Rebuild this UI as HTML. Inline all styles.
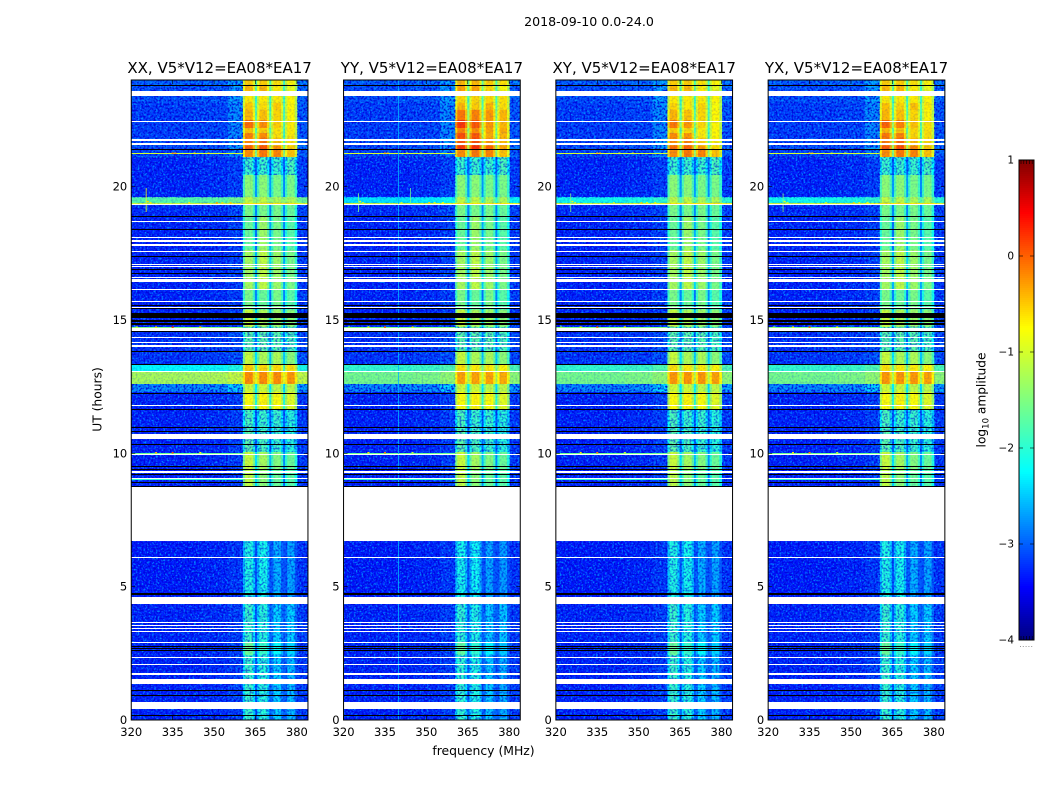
<!DOCTYPE html>
<html>
<head>
<meta charset="utf-8">
<title>2018-09-10 0.0-24.0</title>
<style>
html,body{margin:0;padding:0;background:#fff;}
svg{display:block;}
text{font-family:"DejaVu Sans","Liberation Sans",sans-serif;fill:#000;}
</style>
</head>
<body>
<svg id="figure" xmlns="http://www.w3.org/2000/svg" width="1050" height="800" viewBox="0 0 1050 800">
  <defs>
    <filter id="speckle-light" x="0" y="0" width="100%" height="100%" color-interpolation-filters="sRGB">
      <feTurbulence type="fractalNoise" baseFrequency="0.55" numOctaves="2" seed="3"/>
      <feColorMatrix values="0 0 0 0 0  0 0 0 0 .6  0 0 0 0 1  4.5 0 0 0 -2.2"/>
    </filter>
    <filter id="speckle-dark" x="0" y="0" width="100%" height="100%" color-interpolation-filters="sRGB">
      <feTurbulence type="fractalNoise" baseFrequency="0.5" numOctaves="2" seed="11"/>
      <feColorMatrix values="0 0 0 0 0  0 0 0 0 0  0 0 0 0 .85  0 4.5 0 0 -2.0"/>
    </filter>
  </defs>
  <text x="589" y="26" font-size="12.6" text-anchor="middle">2018-09-10 0.0-24.0</text>
  <text x="483.5" y="755" font-size="12.4" text-anchor="middle">frequency (MHz)</text>
  <text transform="translate(101.5,399.5) rotate(-90)" font-size="12.3" text-anchor="middle">UT (hours)</text>
  <text transform="translate(985.5,400) rotate(-90)" font-size="12.2" text-anchor="middle">log<tspan font-size="8.5" dy="3">10</tspan><tspan dy="-3"> amplitude</tspan></text>
  <g id="panels"></g>
  <g id="colorbar"></g>
</svg>
<script>
const panelTitles = ['XX, V5*V12=EA08*EA17', 'YY, V5*V12=EA08*EA17', 'XY, V5*V12=EA08*EA17', 'YX, V5*V12=EA08*EA17'];
const freqTicks = [320, 335, 350, 365, 380];
const timeTicks = [0, 5, 10, 15, 20];
const colorTicks = [1, 0, -1, -2, -3, -4];

// Frequency bin edges in MHz
const freqEdges = [320, 345, 355, 360.4, 361.2, 362.8, 364, 364.8, 365.6, 366.4, 368, 369.2, 370, 370.7, 371.5, 373, 374.2, 375, 375.7, 376.5, 378, 379.2, 380.2, 384];
// Which sub-band a bin belongs to (-1 is out of band)
const binSubband = [-1, -1, -1, 0, 0, 0, 0, 0, 1, 1, 1, 1, 1, 2, 2, 2, 2, 2, 3, 3, 3, 3, -1];
// log10 amplitude offset of each frequency bin
const binOffset = [-0.05, 0, 0.12, -0.35, 0.08, 0.08, -0.3, -1.2, -0.3, 0.08, 0.08, -0.3, -1.2, -0.3, 0.08, 0.08, -0.3, -1.2, -0.3, 0.08, 0.08, -0.35, 0.1];

// Time rows: start and end in UT hours
const rowStart = [24.00, 23.81, 23.40, 23.14, 22.88, 22.50, 22.20, 22.01, 21.83, 21.53, 21.38, 21.11, 20.44, 19.61, 19.39, 19.31, 18.90, 17.63, 16.13, 15.38, 14.74, 13.80, 13.35, 13.05, 12.60, 12.30, 11.63, 10.88, 10.05, 9.38, 6.71, 4.50, 2.93, 2.44];
const rowEnd = [23.81, 23.40, 23.14, 22.88, 22.50, 22.20, 22.01, 21.83, 21.53, 21.38, 21.11, 20.44, 19.61, 19.39, 19.31, 18.90, 17.63, 16.13, 15.38, 14.74, 13.80, 13.35, 13.05, 12.60, 12.30, 11.63, 10.88, 10.05, 9.38, 8.73, 4.50, 2.93, 2.44, 0];
// Out-of-band level per row (XX)
const backgroundLevel = [-2.9, -3.0, -3.0, -3.1, -3.1, -3.1, -3.1, -3.1, -3.0, -3.0, -3.05, -3.25, -3.25, -1.7, -0.95, -3.2, -3.25, -3.25, -3.25, -3.25, -3.15, -3.15, -2.2, -1.2, -2.7, -3.25, -3.25, -3.25, -3.25, -3.25, -3.3, -3.25, -3.25, -3.25];
// Extra level just below the band edge, per row
const edgeLeak = [0.15, 0.25, 0.25, 0.25, 0.25, 0.25, 0.25, 0.25, 0.25, 0.25, 0.15, 0, 0, 0, 0, 0, 0, 0, 0, 0, 0, 0, 0, 0, 0.2, 0, 0, 0, 0, 0, 0, 0, 0, 0];
// Sub-band levels per row (XX)
const subband1 = [-0.6, -0.5, -0.75, -0.6, -0.5, -0.15, -0.55, -0.25, -0.25, -0.1, -0.3, -2.0, -1.5, -1.2, -1.1, -1.6, -1.7, -1.35, -1.6, -1.15, -1.8, -1.15, -0.6, -0.3, -1.1, -0.85, -1.9, -1.8, -1.15, -1.2, -2.15, -2.0, -1.7, -2.0];
const subband2 = [-0.6, -0.5, -0.75, -0.7, -0.55, -0.3, -0.6, -0.3, -0.2, -0.05, -0.2, -2.0, -1.5, -1.2, -1.1, -1.6, -1.4, -1.2, -1.7, -1.3, -1.8, -1.3, -0.65, -0.3, -1.1, -0.8, -2.0, -1.9, -1.35, -1.5, -2.2, -2.1, -2.0, -2.1];
const subband3 = [-0.7, -0.75, -0.75, -0.6, -0.65, -0.6, -0.7, -0.7, -0.55, -0.3, -0.25, -2.0, -1.6, -1.3, -1.1, -1.6, -1.6, -1.4, -1.6, -1.4, -1.8, -1.3, -0.65, -0.3, -1.2, -0.85, -2.0, -2.0, -1.55, -1.7, -2.65, -2.5, -2.3, -2.5];
const subband4 = [-0.8, -0.95, -0.8, -0.8, -0.8, -0.75, -0.75, -0.75, -0.7, -0.6, -0.55, -1.9, -1.6, -1.3, -1.1, -1.7, -1.8, -1.6, -1.8, -1.5, -1.9, -1.5, -0.7, -0.35, -1.2, -1.0, -2.1, -2.1, -1.7, -1.8, -2.7, -2.5, -2.5, -2.6];
// Per-panel corrections, in-band then out-of-band
const bandDeltaXX = [0, 0, 0, 0, 0, 0, 0, 0, 0, 0, 0, 0, 0, 0, 0, 0, 0, 0, 0, 0, 0, 0, 0, 0, 0, 0, 0, 0, 0, 0, 0, 0, 0, 0];
const bandDeltaYY = [0.1, 0.1, 0.1, 0.1, 0.3, 0.25, 0.3, 0.25, 0.2, 0.2, 0, 0, 0, 0, 0, 0, 0, 0, 0, 0, 0, 0, -0.1, -0.1, 0, 0, 0, 0, 0, 0, -0.05, -0.05, -0.05, -0.05];
const bandDeltaXY = [0, 0, 0, -0.05, 0, -0.05, -0.05, -0.05, -0.05, -0.05, 0, 0, 0, 0, 0, 0, 0, 0, 0, 0, 0, 0, -0.1, -0.05, 0, 0, 0, 0, 0, 0, 0, 0, 0, 0];
const bandDeltaYX = [0, 0, 0, 0.05, 0, 0.05, 0.05, 0.05, 0.05, 0.05, 0, 0, 0, 0, 0, 0, 0, 0, 0, 0, 0, 0, -0.1, -0.05, 0, 0, 0, 0, 0, 0, 0, 0, 0, 0];
const bgDeltaXX = [0, 0, 0, 0, 0, 0, 0, 0, 0, 0, 0, 0, 0, 0, 0, 0, 0, 0, 0, 0, 0, 0, 0, 0, 0, 0, 0, 0, 0, 0, 0, 0, 0, 0];
const bgDeltaYY = [0, 0, 0, 0, 0, 0, 0, 0, 0, 0, 0, 0, 0, -0.6, 0, 0, 0, 0, 0, 0, 0, 0, 0.3, -0.3, 0, 0, 0, 0, 0, 0, 0, 0, 0, 0];
const bgDeltaXY = [0, 0, 0, 0, 0, 0, 0, 0, 0, 0, 0, 0, 0, -0.4, 0, 0, 0, 0, 0, 0, 0, 0, 0.3, -0.3, 0, 0, 0, 0, 0, 0, 0, 0, 0, 0];
const bgDeltaYX = [0, 0, 0, 0, 0, 0, 0, 0, 0, 0, 0, 0, 0, -0.4, 0, 0, 0, 0, 0, 0, 0, 0, 0.3, -0.3, 0, 0, 0, 0, 0, 0, 0, 0, 0, 0];

// Flagged (white) time spans, start then end in hours
const whiteStart = [23.59, 22.48, 21.77, 21.62, 19.35, 18.71, 18.13, 18.00, 17.85, 17.59, 17.11, 17.03, 16.63, 16.55, 16.16, 15.70, 15.49, 14.71, 14.37, 14.18, 14.07, 13.08, 11.80, 10.74, 9.98, 9.35, 9.06, 8.73, 6.11, 4.62, 3.66, 3.57, 3.46, 3.35, 2.93, 2.36, 2.09, 1.75, 1.54, 0.68];
const whiteEnd = [23.40, 22.45, 21.73, 21.58, 19.31, 18.68, 18.06, 17.91, 17.76, 17.56, 17.08, 17.00, 16.61, 16.44, 16.13, 15.66, 15.46, 14.60, 14.34, 14.14, 14.00, 13.04, 11.78, 10.55, 9.93, 9.27, 9.04, 6.71, 6.08, 4.35, 3.63, 3.54, 3.42, 3.33, 2.89, 2.34, 2.06, 1.69, 1.35, 0.41];
// Zero-amplitude (black) time spans
const blackStart = [23.83, 21.41, 18.90, 18.41, 17.40, 16.91, 16.76, 15.57, 15.45, 15.28, 15.00, 14.87, 14.59, 13.84, 13.35, 12.27, 11.66, 10.97, 10.85, 10.35, 9.53, 9.41, 9.24, 8.93, 8.78, 4.75, 2.79, 2.70, 2.63, 1.13, 0.94, 0.19];
const blackEnd = [23.79, 21.36, 18.86, 18.38, 17.36, 16.88, 16.73, 15.53, 15.41, 15.09, 14.93, 14.82, 14.55, 13.80, 13.31, 12.22, 11.63, 10.95, 10.81, 10.31, 9.49, 9.38, 9.21, 8.89, 8.74, 4.69, 2.78, 2.66, 2.59, 1.09, 0.90, 0.15];

// Horizontal interference lines
const rfiLineHour = [21.26, 14.74, 10.03, 9.04];
const rfiLineLevel = [-1.0, -1.5, -1.6, -2.0];
// Strong interference spots
const spotFreq = [326, 327, 341, 351, 353, 356, 335, 336, 343, 348, 322, 329, 335, 345, 329, 335, 345];
const spotHour = [19.45, 19.40, 19.40, 19.40, 19.40, 19.40, 21.26, 21.26, 21.26, 21.26, 14.74, 14.74, 14.74, 14.74, 10.03, 10.03, 10.03];
const spotLevel = [-0.6, -0.7, -0.7, -0.3, -0.6, -0.5, -0.2, -0.3, -0.7, -0.7, -1.0, -0.6, 0.2, -0.6, -0.4, 0.1, -0.8];
// Narrow vertical interference streaks
const streakPanel = [0, 1, 1, 1, 2, 3];
const streakFreq = [325.4, 325.4, 339.9, 344.3, 325.4, 325.4];
const streakStart = [19.95, 19.75, 24, 19.95, 19.75, 19.75];
const streakEnd = [19.05, 19.05, 0, 19.31, 19.05, 19.05];
const streakLevel = [-0.9, -1.5, -2.6, -1.6, -1.5, -1.5];

const NS = 'http://www.w3.org/2000/svg';
const panelLeft = [131.25, 343.55, 555.85, 768.15];
const panelWidth = 176.7;
const plotTop = 80;
const plotBottom = 720;
const freqMin = 320;
const freqMax = 384;
const timeMax = 24;
const bandDeltas = [bandDeltaXX, bandDeltaYY, bandDeltaXY, bandDeltaYX];
const bgDeltas = [bgDeltaXX, bgDeltaYY, bgDeltaXY, bgDeltaYX];
const subbands = [subband1, subband2, subband3, subband4];

function yOf(h) { return plotBottom - (h / timeMax) * (plotBottom - plotTop); }
function xOf(p, f) { return panelLeft[p] + (f - freqMin) / (freqMax - freqMin) * panelWidth; }
function jet(v) {
  const t = Math.max(0, Math.min(1, (v + 4) / 5));
  const ramp = function (a, b, c, d) {
    if (t < a || t > d) return 0;
    if (t < b) return (t - a) / (b - a);
    if (t <= c) return 1;
    return (d - t) / (d - c);
  };
  const r = t > 0.89 ? 1 - (t - 0.89) / 0.11 * 0.5 : ramp(0.35, 0.65, 1.1, 2);
  const g = ramp(0.11, 0.35, 0.65, 0.89);
  const b = t < 0.11 ? 0.5 + t / 0.11 * 0.5 : ramp(-1, 0, 0.35, 0.65);
  return 'rgb(' + Math.round(r * 255) + ',' + Math.round(g * 255) + ',' + Math.round(b * 255) + ')';
}
function make(tag, attrs, parent) {
  const el = document.createElementNS(NS, tag);
  for (const k in attrs) el.setAttribute(k, attrs[k]);
  parent.appendChild(el);
  return el;
}

const panelsRoot = document.getElementById('panels');
panelTitles.forEach(function (title, p) {
  const g = make('g', {}, panelsRoot);
  
  
  const W = panelWidth;

  // heatmap cells
  rowStart.forEach(function (start, r) {
    const y0 = yOf(start);
    const y1 = yOf(rowEnd[r]);
    const bg = backgroundLevel[r] + bgDeltas[p][r];
    for (let b = 0; b < binOffset.length; b++) {
      const s = binSubband[b];
      let v;
      if (s < 0) {
        v = bg + binOffset[b] + (b === 2 ? edgeLeak[r] : 0);
      } else {
        v = Math.max(subbands[s][r] + bandDeltas[p][r] + binOffset[b], bg + 0.3);
      }
      const x0 = xOf(p, freqEdges[b]);
      const x1 = xOf(p, freqEdges[b + 1]);
      const cell = make('rect', { x: x0, y: y0, width: x1 - x0 + 0.3, height: y1 - y0 + 0.3, fill: jet(v) }, g);
      
      
    }
  });

  // decorative speckle texture, strongest where the signal is faint
  const bandX0 = xOf(p, freqEdges[3]);
  const bandX1 = xOf(p, freqEdges[22]);
  const right = panelLeft[p] + W;
  const texture = make('g', {}, g);
  
  
  rowStart.forEach(function (start, r) {
    const y0 = yOf(start);
    const h = yOf(rowEnd[r]) - y0;
    const bg = backgroundLevel[r] + bgDeltas[p][r];
    const outside = bg < -2.4 ? 0.85 : 0.15;
    const inside = subband1[r] < -1.7 ? 0.55 : 0.12;
    make('rect', { x: panelLeft[p], y: y0, width: bandX0 - panelLeft[p], height: h, filter: 'url(#speckle-light)', opacity: outside }, texture);
    make('rect', { x: panelLeft[p], y: y0, width: bandX0 - panelLeft[p], height: h, filter: 'url(#speckle-dark)', opacity: outside }, texture);
    make('rect', { x: bandX1, y: y0, width: right - bandX1, height: h, filter: 'url(#speckle-light)', opacity: outside }, texture);
    make('rect', { x: bandX1, y: y0, width: right - bandX1, height: h, filter: 'url(#speckle-dark)', opacity: outside }, texture);
    make('rect', { x: bandX0, y: y0, width: bandX1 - bandX0, height: h, filter: 'url(#speckle-dark)', opacity: inside }, texture);
  });

  // interference lines, streaks and spots
  rfiLineHour.forEach(function (h, i) {
    const line = make('rect', { x: panelLeft[p], y: Math.round(yOf(h)), width: bandX0 - panelLeft[p], height: 1, fill: jet(rfiLineLevel[i]) }, g);
    
    
  });
  streakPanel.forEach(function (sp, i) {
    if (sp !== p) return;
    const streak = make('rect', { x: xOf(p, streakFreq[i]) - 0.4, y: yOf(streakStart[i]), width: 0.8, height: yOf(streakEnd[i]) - yOf(streakStart[i]), fill: jet(streakLevel[i]) }, g);
    
    
  });
  spotFreq.forEach(function (f, i) {
    const spot = make('rect', { x: xOf(p, f) - 1, y: yOf(spotHour[i]) - 0.5, width: 2, height: 1.5, fill: jet(spotLevel[i] - (p === 0 ? 0 : 0.25)) }, g);
    
    
  });

  // flagged and zero spans, snapped to whole pixels
  const spanLeft = Math.round(panelLeft[p]);
  const spanWidth = Math.round(right) - spanLeft;
  whiteStart.forEach(function (h, i) {
    const top = Math.round(yOf(h));
    const span = make('rect', { x: spanLeft, y: top, width: spanWidth, height: Math.max(1, Math.round(yOf(whiteEnd[i])) - top), fill: '#fff' }, g);
    
    
  });
  blackStart.forEach(function (h, i) {
    const top = Math.round(yOf(h));
    const span = make('rect', { x: spanLeft, y: top, width: spanWidth, height: Math.max(1, Math.round(yOf(blackEnd[i])) - top), fill: '#000' }, g);
    
    
  });

  // frame
  const frame = make('rect', { x: panelLeft[p], y: plotTop, width: W, height: plotBottom - plotTop, fill: 'none', stroke: '#000', 'stroke-width': 1 }, g);
  
  

  // ticks
  freqTicks.forEach(function (f) {
    const x = xOf(p, f);
    const t1 = make('line', { x1: x, x2: x, y1: plotBottom, y2: plotBottom - 4, stroke: '#000', 'stroke-width': 0.6 }, g);
    
    
    const t2 = make('line', { x1: x, x2: x, y1: plotTop, y2: plotTop + 4, stroke: '#000', 'stroke-width': 0.6 }, g);
    
    
    const label = make('text', { x: x, y: 736, 'font-size': 11.5, 'text-anchor': 'middle' }, g);
    
    
    label.textContent = String(f);
  });
  timeTicks.forEach(function (h) {
    const y = yOf(h);
    const t1 = make('line', { x1: panelLeft[p], x2: panelLeft[p] + 4, y1: y, y2: y, stroke: '#000', 'stroke-width': 0.6 }, g);
    
    
    const t2 = make('line', { x1: right, x2: right - 4, y1: y, y2: y, stroke: '#000', 'stroke-width': 0.6 }, g);
    
    
    const label = make('text', { x: panelLeft[p] - 4, y: y + 4, 'font-size': 11.5, 'text-anchor': 'end' }, g);
    
    
    label.textContent = String(h);
  });

  const head = make('text', { x: panelLeft[p] + W / 2, y: 73, 'font-size': 15, 'text-anchor': 'middle' }, g);
  
  
  head.textContent = title;
});

// colour bar
(function () {
  const root = document.getElementById('colorbar');
  const left = 1019, width = 15, top = 160, height = 480;
  const vMax = 1, vMin = -4;
  const yV = function (v) { return top + (vMax - v) / (vMax - vMin) * height; };
  const steps = 240;
  for (let i = 0; i < steps; i++) {
    const v = vMax - (i + 0.5) / steps * (vMax - vMin);
    const seg = make('rect', { x: left, y: top + i * height / steps, width: width, height: height / steps + 0.4, fill: jet(v) }, root);
    
    
  }
  const border = make('rect', { x: left, y: top, width: width, height: height, fill: 'none', stroke: '#000', 'stroke-width': 1 }, root);
  
  
  colorTicks.forEach(function (v) {
    const y = yV(v);
    const a = make('line', { x1: left, x2: left + 4, y1: y, y2: y, stroke: '#000', 'stroke-width': 0.6 }, root);
    
    
    const b = make('line', { x1: left + width, x2: left + width - 4, y1: y, y2: y, stroke: '#000', 'stroke-width': 0.6 }, root);
    
    
    const label = make('text', { x: left - 5, y: y + 3.5, 'font-size': 10.5, 'text-anchor': 'end' }, root);
    
    
    label.textContent = v < 0 ? '\u2212' + Math.abs(v) : String(v);
  });
  for (let i = 0; i < 5; i++) {
    const x = left + 2 + i * 2.8;
    const t = make('line', { x1: x, x2: x, y1: top, y2: top + 4, stroke: '#000', 'stroke-width': 0.6 }, root);
    
    
    const u = make('line', { x1: x, x2: x, y1: top + height, y2: top + height - 4, stroke: '#000', 'stroke-width': 0.6 }, root);
    
    
    const d = make('rect', { x: x - 1, y: 646, width: 1, height: 1, fill: '#999' }, root);
    
    
  }
})();
</script>
</body>
</html>
